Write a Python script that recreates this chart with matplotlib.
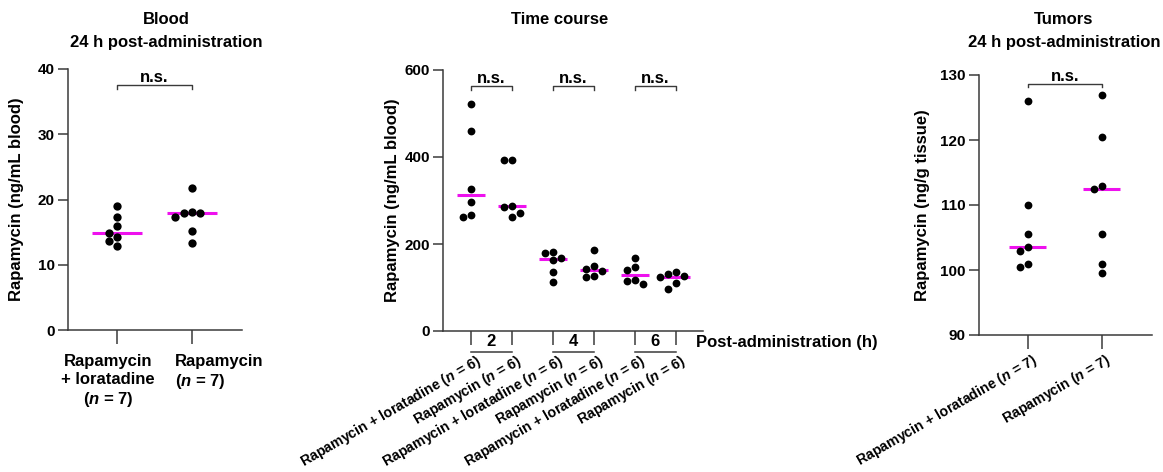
import numpy as np
import matplotlib
matplotlib.use("Agg")
import matplotlib.pyplot as plt
import matplotlib.transforms as mtransforms

plt.rcParams["font.family"] = ["Liberation Sans", "DejaVu Sans"]
plt.rcParams["font.weight"] = "bold"
plt.rcParams["axes.labelweight"] = "bold"
plt.rcParams["mathtext.fontset"] = "custom"
plt.rcParams["mathtext.rm"] = "Liberation Sans:bold"
plt.rcParams["mathtext.it"] = "Liberation Sans:italic:bold"
plt.rcParams["mathtext.bf"] = "Liberation Sans:bold"

# data
blood_combo = [19.0, 17.3, 15.9, 14.9, 14.3, 13.6, 12.8]
blood_rapa = [21.8, 18.1, 17.9, 17.9, 17.3, 15.1, 13.4]
blood_labels = ["Rapamycin\n+ loratadine\n($n$ = 7)", "Rapamycin\n($n$ = 7)"]

time_hours = ["2", "4", "6"]
time_combo_2h = [521, 459, 326, 297, 267, 261]
time_rapa_2h = [394, 392, 288, 286, 271, 262]
time_combo_4h = [182, 179, 167, 163, 136, 113]
time_rapa_4h = [186, 149, 142, 139, 126, 123]
time_combo_6h = [167, 148, 140, 117, 116, 108]
time_rapa_6h = [136, 130, 127, 123, 111, 96]
time_labels = ["Rapamycin + loratadine ($n$ = 6)", "Rapamycin ($n$ = 6)"] * 3

tumor_combo = [126.0, 110.0, 105.5, 103.5, 103.0, 101.0, 100.5]
tumor_rapa = [127.0, 120.5, 113.0, 112.5, 105.5, 101.0, 99.5]
tumor_labels = ["Rapamycin + loratadine ($n$ = 7)", "Rapamycin ($n$ = 7)"]

AX_COL = "#3a3a3a"
MED_COL = "#ee11ee"
W, H = 1163, 472

fig = plt.figure(figsize=(W / 100, H / 100), dpi=100)


def px_axes(left, top, right, bottom):
    return fig.add_axes([left / W, 1 - bottom / H, (right - left) / W, (bottom - top) / H])


def style(ax):
    for s in ["top", "right"]:
        ax.spines[s].set_visible(False)
    for s in ["left", "bottom"]:
        ax.spines[s].set_color(AX_COL)
        ax.spines[s].set_linewidth(1.1)
    ax.tick_params(axis="both", length=7.5, width=1.1, color=AX_COL, labelsize=11, pad=2)


def bold_ticks(ax):
    for lab in ax.get_xticklabels() + ax.get_yticklabels():
        lab.set_fontweight("bold")


def shift_xlabels(ax, dx, dy):
    off = mtransforms.ScaledTranslation(dx / 100, dy / 100, fig.dpi_scale_trans)
    for lab in ax.get_xticklabels():
        lab.set_transform(lab.get_transform() + off)


def swarm(ax, x0, vals, diam):
    # simple grid beeswarm in pixel space
    vals = np.asarray(vals, dtype=float)
    ypix = ax.transData.transform(np.column_stack([np.full(len(vals), x0), vals]))[:, 1]
    xscale = ax.transData.transform([[1, 0]])[0, 0] - ax.transData.transform([[0, 0]])[0, 0]
    step = diam
    placed = []
    offs = np.zeros(len(vals))
    for i in np.argsort(-vals):
        for k in [0, -1, 1, -2, 2, -3, 3]:
            xo = k * step
            if all(np.hypot(xo - px, ypix[i] - py) >= 0.95 * diam for px, py in placed):
                break
        placed.append((xo, ypix[i]))
        offs[i] = xo / xscale
    return x0 + offs


def draw_group(ax, x0, vals, diam, half):
    xs = swarm(ax, x0, vals, diam)
    ax.scatter(xs, vals, s=(diam * 0.72) ** 2, color="black", zorder=3, clip_on=False, linewidths=0)
    ax.hlines(np.median(vals), x0 - half, x0 + half, color=MED_COL, lw=2.2, zorder=2)


def bracket(ax, x0, x1, y, h):
    ax.plot([x0, x0, x1, x1], [y - h, y, y, y - h], color=AX_COL, lw=1.0, clip_on=False)
    ax.text((x0 + x1) / 2, y, "n.s.", ha="center", va="bottom", fontsize=12)


# ---- Blood 24 h
ax1 = px_axes(68, 69, 242, 330)
style(ax1)
ax1.set_xlim(-0.655, 1.667)
ax1.set_ylim(0, 40)
ax1.set_yticks([0, 10, 20, 30, 40])
ax1.set_xticks([0, 1])
ax1.set_xticklabels([])
ax1.tick_params(axis="x", length=10)
ax1.set_ylabel("Rapamycin (ng/mL blood)", fontsize=12)
ax1.yaxis.set_label_coords(-0.25, 0.5)
bold_ticks(ax1)
for i, vals in enumerate([blood_combo, blood_rapa]):
    draw_group(ax1, i, vals, 8.3, 0.33)
bracket(ax1, 0, 1, 37.6, 0.6)
ax1.annotate(blood_labels[0], xy=(0, 0), xycoords=("data", "axes fraction"),
             xytext=(-6.5, -17), textcoords="offset points", ha="center", va="top",
             multialignment="center", fontsize=12, linespacing=1.25)
ax1.annotate(blood_labels[1], xy=(1, 0), xycoords=("data", "axes fraction"),
             xytext=(-12, -17), textcoords="offset points", ha="left", va="top",
             multialignment="left", fontsize=12, linespacing=1.25)

# ---- Time course
ax2 = px_axes(443, 70, 703, 331)
style(ax2)
ax2.set_xlim(-0.68, 5.66)
ax2.set_ylim(0, 600)
ax2.set_yticks([0, 200, 400, 600])
ax2.set_xticks(range(6))
ax2.tick_params(axis="x", length=10, pad=13)
ax2.set_xticklabels(time_labels, rotation=30, ha="right", va="center",
                    rotation_mode="anchor", fontsize=10.2)
shift_xlabels(ax2, 9, 3)
ax2.set_ylabel("Rapamycin (ng/mL blood)", fontsize=12)
ax2.yaxis.set_label_coords(-0.165, 0.5)
bold_ticks(ax2)
time_series = [time_combo_2h, time_rapa_2h, time_combo_4h, time_rapa_4h, time_combo_6h, time_rapa_6h]
for i, vals in enumerate(time_series):
    draw_group(ax2, i, vals, 7.8, 0.35)
line_tr = ax2.get_xaxis_transform() + mtransforms.ScaledTranslation(0, -0.21, fig.dpi_scale_trans)
for j, hr in enumerate(time_hours):
    bracket(ax2, 2 * j, 2 * j + 1, 564, 10)
    ax2.annotate(hr, xy=(2 * j + 0.5, 0), xycoords=("data", "axes fraction"),
                 xytext=(0, -7.5), textcoords="offset points", ha="center", va="center", fontsize=12)
    ax2.plot([2 * j, 2 * j + 1], [0, 0], color=AX_COL, lw=1.1, transform=line_tr, clip_on=False)
ax2.annotate("Post-administration (h)", xy=(1, 0), xycoords="axes fraction",
             xytext=(-5, -8.5), textcoords="offset points", ha="left", va="center", fontsize=12)

# ---- Tumors 24 h
ax3 = px_axes(979, 75, 1152, 335)
style(ax3)
ax3.set_xlim(-0.66, 1.68)
ax3.set_ylim(90, 130)
ax3.set_yticks([90, 100, 110, 120, 130])
ax3.set_xticks([0, 1])
ax3.tick_params(axis="x", length=10, pad=9)
ax3.set_xticklabels(tumor_labels, rotation=30, ha="right", va="center",
                    rotation_mode="anchor", fontsize=10.2)
shift_xlabels(ax3, 8, 2)
ax3.set_ylabel("Rapamycin (ng/g tissue)", fontsize=12)
ax3.yaxis.set_label_coords(-0.285, 0.5)
bold_ticks(ax3)
for i, vals in enumerate([tumor_combo, tumor_rapa]):
    draw_group(ax3, i, vals, 7.8, 0.25)
bracket(ax3, 0, 1, 128.6, 0.5)

# titles
fig.text(166 / W, 1 - 20 / H, "Blood", ha="center", va="center", fontsize=12)
fig.text(166 / W, 1 - 42 / H, "24 h post-administration", ha="center", va="center", fontsize=12)
fig.text(560 / W, 1 - 20 / H, "Time course", ha="center", va="center", fontsize=12)
fig.text(1064 / W, 1 - 20 / H, "Tumors", ha="center", va="center", fontsize=12)
fig.text(1064 / W, 1 - 42 / H, "24 h post-administration", ha="center", va="center", fontsize=12)

fig.savefig("out.png", dpi=100)
